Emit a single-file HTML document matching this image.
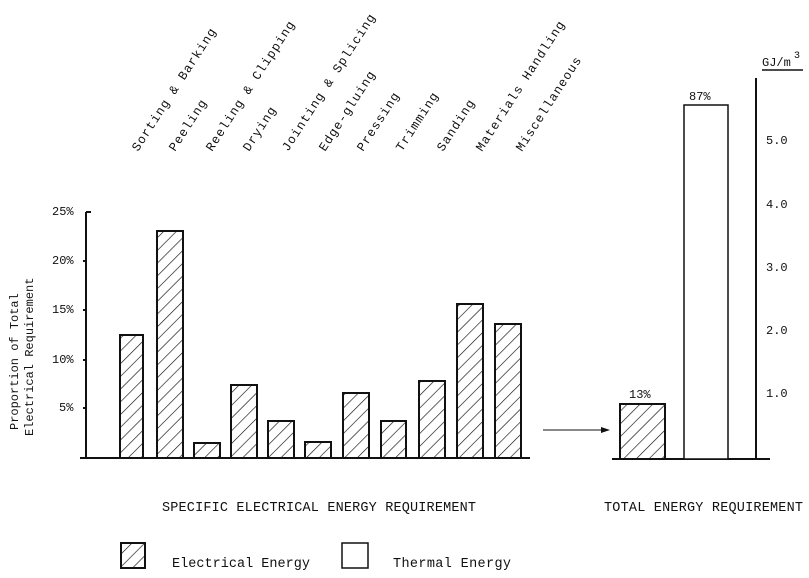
<!DOCTYPE html>
<html><head><meta charset="utf-8"><style>
body{margin:0;background:#fff}
svg{display:block}
text{font-family:"Liberation Mono",monospace;fill:#111}
</style></head><body>
<svg width="809" height="578" viewBox="0 0 809 578" xmlns="http://www.w3.org/2000/svg">
<defs>
<pattern id="h" patternUnits="userSpaceOnUse" width="9" height="9" patternTransform="rotate(45)">
<rect width="9" height="9" fill="#fff"/><line x1="0" y1="0" x2="0" y2="9" stroke="#111" stroke-width="1.3"/>
</pattern>
</defs>
<g stroke="#111" stroke-width="2" fill="none">
<line x1="86" y1="212" x2="86" y2="458"/>
<line x1="80" y1="458" x2="530" y2="458"/>
<line x1="86" y1="212" x2="91" y2="212"/>
<line x1="83" y1="261" x2="86" y2="261"/>
<line x1="83" y1="310" x2="86" y2="310"/>
<line x1="83" y1="360" x2="86" y2="360"/>
<line x1="83" y1="408" x2="86" y2="408"/>
<line x1="612" y1="459" x2="770" y2="459"/>
<line x1="756" y1="78" x2="756" y2="459"/>
<line x1="762" y1="70" x2="803" y2="70" stroke-width="1.5"/>
</g>
<g stroke="#111" stroke-width="2" fill="url(#h)">
<rect x="120" y="335" width="23" height="123"/>
<rect x="157" y="231" width="26" height="227"/>
<rect x="194" y="443" width="26" height="15"/>
<rect x="231" y="385" width="26" height="73"/>
<rect x="268" y="421" width="26" height="37"/>
<rect x="305" y="442" width="26" height="16"/>
<rect x="343" y="393" width="26" height="65"/>
<rect x="381" y="421" width="25" height="37"/>
<rect x="419" y="381" width="26" height="77"/>
<rect x="457" y="304" width="26" height="154"/>
<rect x="495" y="324" width="26" height="134"/>
<rect x="620" y="404" width="45" height="55"/>
<rect x="121" y="543" width="24" height="25"/>
</g>
<g stroke="#111" stroke-width="1.5" fill="#fff">
<rect x="684" y="105" width="44" height="354" stroke-dasharray="none"/>
<rect x="342" y="543" width="26" height="25"/>
</g>
<line x1="543" y1="430" x2="604" y2="430" stroke="#111" stroke-width="1"/>
<polygon points="610,430 601,427 601,433" fill="#111"/>
<g font-size="12">
<text x="52" y="215">25%</text>
<text x="52" y="264">20%</text>
<text x="52" y="313">15%</text>
<text x="52" y="363">10%</text>
<text x="59" y="411">5%</text>
<text x="766" y="144">5.0</text>
<text x="766" y="208">4.0</text>
<text x="766" y="271">3.0</text>
<text x="766" y="334">2.0</text>
<text x="766" y="397">1.0</text>
<text x="762" y="66">GJ/m</text><text x="794" y="58" font-size="10">3</text>
<text x="689" y="100">87%</text>
<text x="629" y="398">13%</text>
</g>
<g font-size="12" transform="rotate(-90)">
<text x="-430" y="18">Proportion of Total</text>
<text x="-436" y="33">Electrical Requirement</text>
</g>
<g font-size="12.5" letter-spacing="1">
<text transform="translate(138,152) rotate(-57)">Sorting &amp; Barking</text>
<text transform="translate(175,152) rotate(-57)">Peeling</text>
<text transform="translate(212,152) rotate(-57)">Reeling &amp; Clipping</text>
<text transform="translate(249,152) rotate(-57)">Drying</text>
<text transform="translate(288,152) rotate(-57)">Jointing &amp; Splicing</text>
<text transform="translate(325,152) rotate(-57)">Edge-gluing</text>
<text transform="translate(363,152) rotate(-57)">Pressing</text>
<text transform="translate(402,152) rotate(-57)">Trimming</text>
<text transform="translate(443,152) rotate(-57)">Sanding</text>
<text transform="translate(482,152) rotate(-57)">Materials Handling</text>
<text transform="translate(522,152) rotate(-57)">Miscellaneous</text>
</g>
<g font-size="13.5">
<text x="162" y="511" textLength="314">SPECIFIC ELECTRICAL ENERGY REQUIREMENT</text>
<text x="604" y="511" textLength="199">TOTAL ENERGY REQUIREMENT</text>
<text x="172" y="567" textLength="138">Electrical Energy</text>
<text x="393" y="567" textLength="118">Thermal Energy</text>
</g>
</svg>
</body></html>
